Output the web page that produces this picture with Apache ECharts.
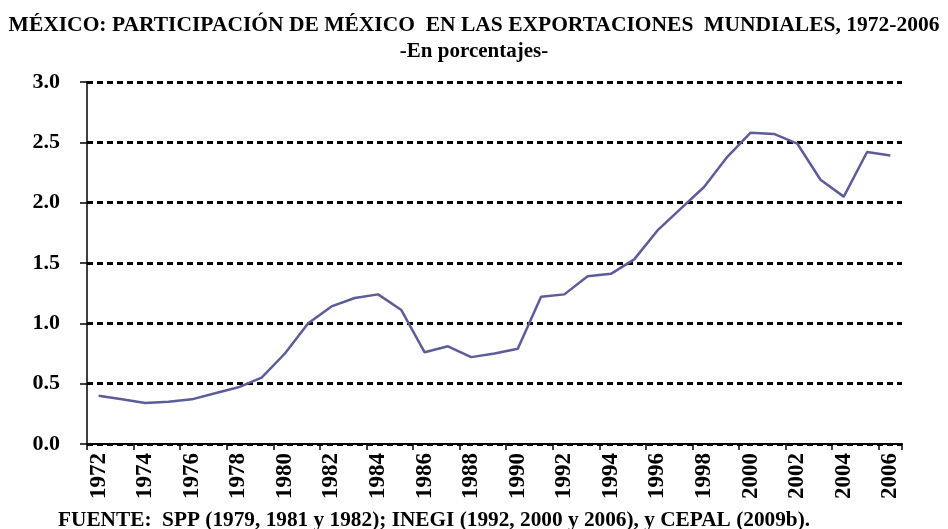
<!DOCTYPE html>
<html>
<head>
<meta charset="utf-8">
<script src="https://cdn.jsdelivr.net/npm/echarts@6/dist/echarts.min.js"></script>
<style>
  html, body { margin: 0; padding: 0; background: #fff; }
  #chart { width: 948px; height: 529px; }
</style>
</head>
<body>
<div id="chart"></div>
<script>
// años
const years = ['1972', '1973', '1974', '1975', '1976', '1977', '1978', '1979', '1980', '1981',
  '1982', '1983', '1984', '1985', '1986', '1987', '1988', '1989', '1990', '1991',
  '1992', '1993', '1994', '1995', '1996', '1997', '1998', '1999', '2000', '2001',
  '2002', '2003', '2004', '2005', '2006']
// participación en %
const participacion = [0.40, 0.37, 0.34, 0.35, 0.37, 0.42, 0.47, 0.55, 0.75, 1.00,
  1.14, 1.21, 1.24, 1.11, 0.76, 0.81, 0.72, 0.75, 0.79, 1.22,
  1.24, 1.39, 1.41, 1.53, 1.77, 1.95, 2.13, 2.38, 2.58, 2.57,
  2.49, 2.19, 2.05, 2.42, 2.39]
const yTicks = [0, 0.5, 1.0, 1.5, 2.0, 2.5, 3.0]

const titulo = 'MÉXICO: PARTICIPACIÓN DE MÉXICO  EN LAS EXPORTACIONES  MUNDIALES, 1972-2006'
const subtitulo = '-En porcentajes-'
const fuente = 'FUENTE:  SPP (1979, 1981 y 1982); INEGI (1992, 2000 y 2006), y CEPAL (2009b).'

const font = '"Liberation Serif", "Times New Roman", serif'

const chart = echarts.init(document.getElementById('chart'))
chart.setOption({
  backgroundColor: '#fff',
  animation: false,
  textStyle: { fontFamily: font },
  title: [
    {
      text: titulo,
      subtext: subtitulo,
      left: 'center',
      top: 9,
      itemGap: 5,
      textStyle: { fontFamily: font, fontWeight: 'bold', fontSize: 21.5, color: '#000' },
      subtextStyle: { fontFamily: font, fontWeight: 'bold', fontSize: 21, color: '#000' }
    },
    {
      text: fuente,
      left: 53,
      top: 505,
      textStyle: { fontFamily: font, fontWeight: 'bold', fontSize: 21.3, color: '#000' }
    }
  ],
  grid: { left: 87, right: 46, top: 82, bottom: 85 },
  xAxis: {
    type: 'category',
    data: years,
    boundaryGap: true,
    z: 5,
    axisLine: { lineStyle: { color: '#000', width: 2 } },
    axisTick: { show: true, length: 6, lineStyle: { color: '#000', width: 1.5 } },
    axisLabel: {
      interval: 1,
      rotate: 90,
      margin: 9,
      color: '#000',
      fontFamily: font,
      fontWeight: 'bold',
      fontSize: 23
    },
    splitLine: { show: false }
  },
  yAxis: {
    type: 'value',
    min: 0,
    max: 3,
    interval: 0.5,
    axisLine: { show: true, lineStyle: { color: '#000', width: 1.5 } },
    axisTick: { show: true, length: 7, lineStyle: { color: '#000', width: 1.5 } },
    axisLabel: {
      margin: 27,
      color: '#000',
      fontFamily: font,
      fontWeight: 'bold',
      fontSize: 22,
      formatter: v => yTicks.indexOf(v) >= 0 ? v.toFixed(1) : ''
    },
    splitLine: {
      show: true,
      lineStyle: { color: '#000', width: 3, type: [6, 4] }
    }
  },
  series: [{
    type: 'line',
    data: participacion,
    symbol: 'none',
    lineStyle: { color: '#5c5c99', width: 2.5 },
    z: 3
  }]
})
</script>
</body>
</html>
